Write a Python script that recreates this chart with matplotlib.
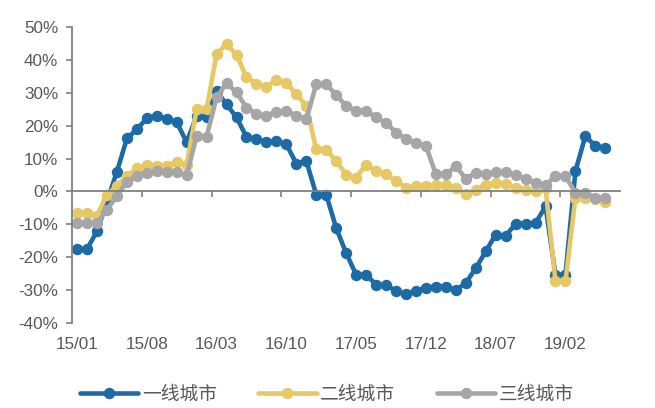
import numpy as np
import pandas as pd
import matplotlib
matplotlib.use("Agg")
import matplotlib.pyplot as plt
from matplotlib.ticker import FixedLocator, FuncFormatter

plt.rcParams['font.family'] = ['Liberation Sans', 'Noto Sans CJK SC', 'DejaVu Sans']

# monthly, 2015/01 .. 2019/06
months = pd.period_range('2015-01', '2019-06', freq='M').strftime('%y/%m').tolist()

tier1 = [-17.5, -17.5, -12.1, -3.0, 6.0, 16.1, 18.9, 22.2, 23.0, 22.0,
         21.0, 15.0, 23.0, 22.5, 30.5, 26.5, 22.5, 16.6, 15.9, 15.0,
         15.3, 14.3, 8.5, 9.3, -1.0, -1.0, -11.1, -18.7, -25.3, -25.3,
         -28.3, -28.4, -30.2, -31.2, -30.2, -29.2, -28.9, -28.9, -30.0, -27.8,
         -23.3, -18.2, -13.1, -13.5, -9.8, -9.8, -9.6, -4.5, -25.3, -25.3,
         6.2, 16.9, 13.8, 13.3]
tier2 = [-6.5, -6.5, -7.3, -1.0, 1.8, 4.7, 7.0, 8.0, 7.7, 7.7,
         8.9, 8.2, 25.0, 25.0, 41.8, 44.8, 41.5, 34.7, 32.8, 31.8,
         33.8, 33.0, 29.6, 26.0, 12.8, 12.7, 9.3, 5.1, 4.2, 8.2,
         6.2, 5.2, 3.2, 1.1, 1.6, 1.8, 1.9, 1.9, 1.1, -0.9,
         0.6, 2.1, 2.6, 2.4, 1.1, 0.6, 0.1, 1.1, -27.3, -27.3,
         -1.9, -1.9, -2.4, -3.2]
tier3 = [-9.6, -9.6, -9.6, -5.5, -1.4, 2.9, 4.7, 5.7, 6.2, 5.9,
         5.9, 4.9, 16.9, 16.7, 28.6, 32.9, 30.1, 25.5, 23.5, 23.0,
         24.2, 24.6, 23.0, 21.9, 32.6, 32.6, 29.3, 26.0, 24.5, 24.5,
         22.5, 20.9, 17.9, 15.9, 14.8, 13.9, 5.2, 5.2, 7.7, 3.9,
         5.7, 5.2, 5.9, 5.9, 4.9, 3.9, 2.6, 1.9, 4.7, 4.7,
         -0.4, -0.4, -1.9, -1.9]

names = ['一线城市', '二线城市', '三线城市']
colors = ['#1C6AA6', '#E6C864', '#A6A6A6']

fig = plt.figure(figsize=(6.55, 4.08), dpi=100)
ax = fig.add_axes([0.110, 0.208, 0.837, 0.726])

x = np.arange(len(months))
for vals, name, c in zip([tier1, tier2, tier3], names, colors):
    ax.plot(x, vals, color=c, lw=3.3, marker='o', ms=7.2, label=name,
            solid_capstyle='round', solid_joinstyle='round')

ax.set_ylim(-40, 50)
ax.set_xlim(-0.5, 54.5)
ax.set_yticks(np.arange(-40, 51, 10))
ax.yaxis.set_major_formatter(FuncFormatter(lambda v, p: f'{v:.0f}%'))

# x axis line crosses at 0, labels sit at the bottom
ax.spines['bottom'].set_position(('data', 0))
ax.spines['top'].set_visible(False)
ax.spines['right'].set_visible(False)
for s in ['left', 'bottom']:
    ax.spines[s].set_color('#808080')
    ax.spines[s].set_linewidth(1.3)

lab_pos = x[::7]
ax.xaxis.set_major_locator(FixedLocator(lab_pos))
ax.set_xticklabels([months[i] for i in lab_pos])
ax.xaxis.set_minor_locator(FixedLocator(np.arange(6.5, 54, 7)))
ax.tick_params(axis='x', which='major', length=0, pad=105, labelsize=12.3,
               labelcolor='#595959')
ax.tick_params(axis='x', which='minor', length=4, width=1.2, color='#808080',
               direction='out')
ax.tick_params(axis='y', length=4, width=1.2, color='#808080', labelsize=12.3,
               labelcolor='#595959', pad=6)

leg = fig.legend(loc='center', bbox_to_anchor=(0.499, 0.034), ncol=3,
                 frameon=False, handlelength=3.1, handletextpad=0.2,
                 columnspacing=2.2, borderpad=0,
                 prop={'family': ['Noto Sans CJK SC'], 'size': 13.5})
for t in leg.get_texts():
    t.set_color('#595959')

fig.savefig('out.png', dpi=100)
